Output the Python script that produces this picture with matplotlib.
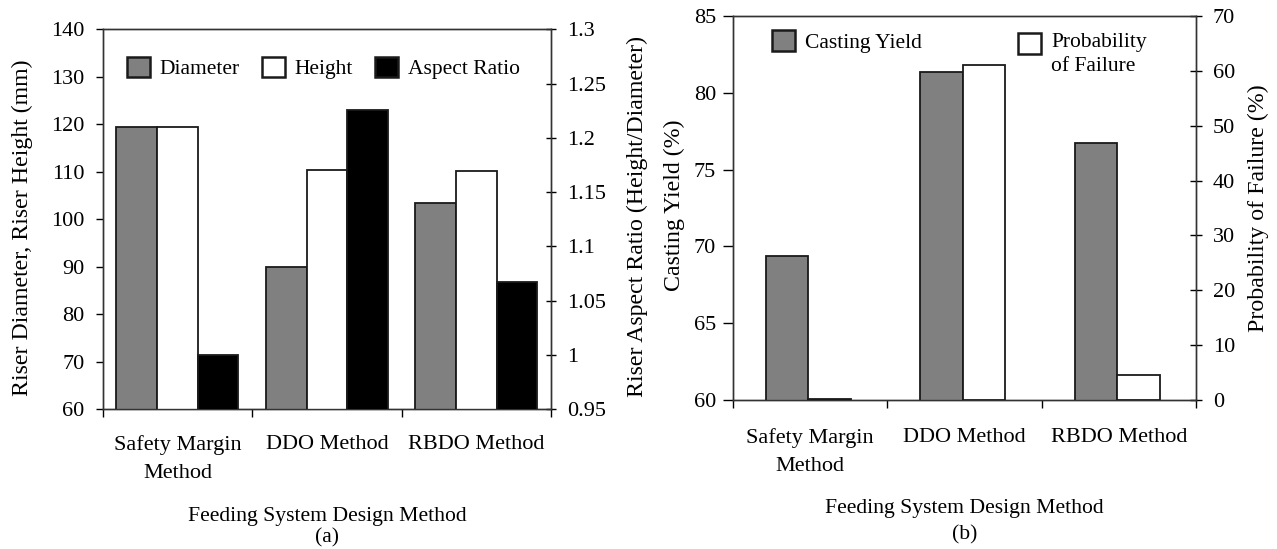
import matplotlib
matplotlib.use("Agg")
import matplotlib.pyplot as plt
import matplotlib.transforms as mtransforms
import numpy as np

plt.rcParams['font.family'] = ['Liberation Serif', 'DejaVu Serif']

# ---------------- data ----------------
categories = ["Safety Margin\nMethod", "DDO Method", "RBDO Method"]
diameter = [119.5, 90.0, 103.3]          # mm
height = [119.5, 110.3, 110.2]           # mm
aspect_ratio = [1.0, 1.226, 1.067]       # height / diameter
casting_yield = [69.4, 81.35, 76.7]      # %
prob_failure = [0.15, 61.0, 4.6]         # %

left_ticks = [60, 70, 80, 90, 100, 110, 120, 130, 140]
ar_ticks = [0.95, 1.0, 1.05, 1.1, 1.15, 1.2, 1.25, 1.3]
ar_ticklabels = ["0.95", "1", "1.05", "1.1", "1.15", "1.2", "1.25", "1.3"]
cy_ticks = [60, 65, 70, 75, 80, 85]
pf_ticks = [0, 10, 20, 30, 40, 50, 60, 70]

GRAY = "#808080"
EDGE = "#1a1a1a"
LW = 1.3
FS_TICK = 16
FS_YLAB = 17.2
FS_XLAB = 15.6
FS_LEG = 15.5
PX = 0.72  # points per pixel at dpi 100

W, H = 1277, 549
fig = plt.figure(figsize=(W / 100, H / 100), dpi=100)

x = np.arange(len(categories))


def style_xaxis(ax, pad):
    ax.set_xlim(-0.5, len(categories) - 0.5)
    ax.set_xticks(np.arange(-0.5, len(categories)), minor=False)
    ax.set_xticklabels([""] * (len(categories) + 1))
    ax.set_xticks(x, minor=True)
    ax.set_xticklabels(categories, minor=True, fontsize=FS_TICK, linespacing=1.65)
    ax.tick_params(axis='x', which='major', direction='out', length=6, width=1)
    ax.tick_params(axis='x', which='minor', length=0, pad=pad)


def place_ylabel(ax, x_px, y_px):
    lab = ax.yaxis.label
    lab.set_verticalalignment('center')
    lab.set_horizontalalignment('center')
    tr = mtransforms.blended_transform_factory(fig.transFigure, fig.transFigure)
    ax.yaxis.set_label_coords(x_px / W, 1 - y_px / H, transform=tr)


def bottom_texts(ax, xlabel, sub, d1, d2):
    ax.annotate(xlabel, xy=(0.5, 0), xycoords='axes fraction', xytext=(0, -d1 * PX),
                textcoords='offset points', ha='center', va='center', fontsize=FS_XLAB)
    ax.annotate(sub, xy=(0.5, 0), xycoords='axes fraction', xytext=(0, -d2 * PX),
                textcoords='offset points', ha='center', va='center', fontsize=FS_XLAB)


def style_spines(*axes):
    for a in axes:
        for s in a.spines.values():
            s.set_linewidth(1.0)
            s.set_color("#333333")


# ---------------- panel (a) ----------------
ax1 = fig.add_axes([102.7 / W, 1 - 409 / H, (551 - 102.7) / W, (409 - 29.3) / H])
ax1b = ax1.twinx()
w = 0.272
b1 = ax1.bar(x - w, diameter, w, color=GRAY, edgecolor=EDGE, linewidth=LW, label="Diameter", zorder=3)
b2 = ax1.bar(x, height, w, color="white", edgecolor=EDGE, linewidth=LW, label="Height", zorder=3)
b3 = ax1b.bar(x + w, aspect_ratio, w, color="black", edgecolor=EDGE, linewidth=LW, label="Aspect Ratio", zorder=3)
ax1.set_ylim(60, 140)
ax1.set_yticks(left_ticks)
ax1b.set_ylim(0.95, 1.3)
ax1b.set_yticks(ar_ticks)
ax1b.set_yticklabels(ar_ticklabels)
style_xaxis(ax1, pad=19)
ax1.tick_params(axis='y', direction='out', length=4.8, width=1, labelsize=FS_TICK, pad=8.4)
ax1b.tick_params(axis='y', direction='inout', length=7.2, width=1, labelsize=FS_TICK, pad=8)
ax1.set_ylabel("Riser Diameter, Riser Height (mm)", fontsize=FS_YLAB)
ax1b.set_ylabel("Riser Aspect Ratio (Height/Diameter)", fontsize=FS_YLAB, rotation=90)
place_ylabel(ax1, 22, 228)
place_ylabel(ax1b, 637, 217)
bottom_texts(ax1, "Feeding System Design Method", "(a)", 107, 129)
style_spines(ax1, ax1b)

leg1 = ax1.legend([b1, b2, b3], ["Diameter", "Height", "Aspect Ratio"], ncol=3, frameon=False,
                  loc="center left", bbox_to_anchor=((126.7 - 102.7) / 448.3, 1 - (68 - 29.3) / 379.7),
                  fontsize=FS_LEG, borderpad=0, borderaxespad=0,
                  handlelength=1.07, handleheight=1.07, handletextpad=0.47, columnspacing=1.0)
for h in leg1.legend_handles:
    h.set_linewidth(1.8)

# ---------------- panel (b) ----------------
ax2 = fig.add_axes([732.7 / W, 1 - 400 / H, (1196 - 732.7) / W, (400 - 16) / H])
ax2b = ax2.twinx()
w2 = 0.275
c1 = ax2.bar(x - w2 / 2 - 0.01, casting_yield, w2, color=GRAY, edgecolor=EDGE, linewidth=LW, label="Casting Yield", zorder=3)
c2 = ax2b.bar(x + w2 / 2 - 0.01, prob_failure, w2, color="white", edgecolor=EDGE, linewidth=LW, label="Probability\nof Failure", zorder=3)
ax2.set_ylim(60, 85)
ax2.set_yticks(cy_ticks)
ax2b.set_ylim(0, 70)
ax2b.set_yticks(pf_ticks)
style_xaxis(ax2, pad=20.4)
ax2.tick_params(axis='y', direction='out', length=7, width=1, labelsize=FS_TICK, pad=5)
ax2b.tick_params(axis='y', direction='inout', length=8.3, width=1, labelsize=FS_TICK, pad=8)
ax2.set_ylabel("Casting Yield (%)", fontsize=FS_YLAB)
ax2b.set_ylabel("Probability of Failure (%)", fontsize=FS_YLAB, rotation=90)
place_ylabel(ax2, 674, 205)
place_ylabel(ax2b, 1258, 208)
bottom_texts(ax2, "Feeding System Design Method", "(b)", 108, 135)
style_spines(ax2, ax2b)

AXW2, AXH2 = 463.3, 384.0
legA = ax2.legend([c1], ["Casting Yield"], frameon=False, loc="center left",
                  bbox_to_anchor=((771.7 - 732.7) / AXW2, 1 - (41.7 - 16) / AXH2), fontsize=FS_LEG,
                  borderpad=0, borderaxespad=0, handlelength=1.07, handleheight=1.07, handletextpad=0.47)
ax2.add_artist(legA)
legB = ax2.legend([c2], ["Probability\nof Failure"], frameon=False, loc="upper left",
                  bbox_to_anchor=((1018 - 732.7) / AXW2, 1 - (33.5 - 16) / AXH2), fontsize=FS_LEG,
                  borderpad=0, borderaxespad=0, handlelength=1.07, handleheight=1.07, handletextpad=0.47)
legB.get_texts()[0].set_linespacing(1.35)
for leg in (legA, legB):
    for h in leg.legend_handles:
        h.set_linewidth(1.8)
for col in legB._legend_handle_box.get_children():
    for item in col.get_children():
        item.align = "top"

fig.savefig("out.png", dpi=100)
